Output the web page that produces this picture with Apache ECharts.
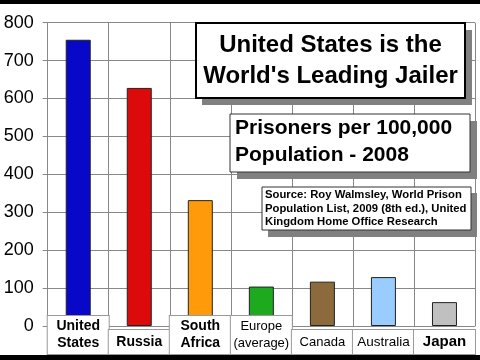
<!DOCTYPE html>
<html><head><meta charset="utf-8">
<script src="https://cdn.jsdelivr.net/npm/echarts@6/dist/echarts.min.js"></script>
<style>html,body{margin:0;padding:0;background:#fff}#c{width:480px;height:360px}</style>
</head><body><div id="c"></div>
<script>
const categories = ['United\nStates', 'Russia', 'South\nAfrica', 'Europe\n(average)', 'Canada', 'Australia', 'Japan'];
const values = [755, 628, 332, 104, 117, 129, 63];
const barColors = ['#0808c8', '#dc0a0a', '#ff9a0a', '#1eaa1e', '#8c6a3c', '#9accff', '#c0c0c0'];
const yTicks = [0, 100, 200, 300, 400, 500, 600, 700, 800];
const titleText = "United States is the\nWorld's Leading Jailer";
const subtitleText = 'Prisoners per 100,000\nPopulation - 2008';
const sourceText = 'Source: Roy Walmsley, World Prison\nPopulation List, 2009 (8th ed.), United\nKingdom Home Office Research';

const labelFonts = [
  {fontWeight: 'bold', fontSize: 14},
  {fontWeight: 'bold', fontSize: 14},
  {fontWeight: 'bold', fontSize: 14},
  {fontWeight: 'normal', fontSize: 13},
  {fontWeight: 'normal', fontSize: 13},
  {fontWeight: 'normal', fontSize: 13.5},
  {fontWeight: 'bold', fontSize: 15}
];

const catData = categories.map((c, i) => {
  const twoLine = c.indexOf('\n') >= 0;
  return {
    value: c,
    textStyle: Object.assign({
      padding: twoLine ? [2, 1] : [3.5, 1],
      lineHeight: 17,
      verticalAlign: 'bottom'
    }, labelFonts[i])
  };
});

const chart = echarts.init(document.getElementById('c'), null, {renderer: 'canvas'});
chart.setOption({
  backgroundColor: '#fff',
  animation: false,
  grid: {left: 47.7, right: 5, top: 22.7, bottom: 34, containLabel: false, outerBoundsMode: 'none'},
  xAxis: {
    type: 'category',
    z: 10,
    data: catData,
    boundaryGap: true,
    axisLine: {show: true, lineStyle: {color: '#888', width: 1}},
    axisTick: {show: false},
    splitLine: {show: true, lineStyle: {color: '#888', width: 1}},
    axisLabel: {
      interval: 0,
      margin: 28,
      verticalAlign: 'bottom',
      align: 'center',
      color: '#000',
      fontFamily: 'Liberation Sans, Arial, sans-serif',
      width: 59,
      backgroundColor: '#fff',
      borderColor: '#999',
      borderWidth: 1
    }
  },
  yAxis: {
    type: 'value',
    min: yTicks[0],
    max: yTicks[yTicks.length - 1],
    interval: 100,
    axisLine: {show: true, lineStyle: {color: '#888', width: 1}},
    axisTick: {show: true, length: 5, lineStyle: {color: '#888'}},
    splitLine: {show: true, lineStyle: {color: '#888', width: 1}},
    axisLabel: {
      margin: 14,
      color: '#000',
      fontSize: 18,
      fontFamily: 'Liberation Sans, Arial, sans-serif'
    }
  },
  series: [{
    type: 'bar',
    barWidth: 25,
    data: values.map((v, i) => ({value: v, itemStyle: {color: barColors[i]}})),
    itemStyle: {borderColor: '#222', borderWidth: 1}
  }],
  graphic: [
    {type: 'rect', z: 100, shape: {x: 0, y: 0, width: 480, height: 4}, style: {fill: '#000'}},
    {type: 'rect', z: 100, shape: {x: 0, y: 355, width: 480, height: 5}, style: {fill: '#000'}},
    {type: 'rect', z: 100, shape: {x: 202, y: 30, width: 270, height: 75}, style: {fill: '#808080'}},
    {type: 'rect', z: 101, shape: {x: 196, y: 23, width: 269, height: 75}, style: {fill: '#fff', stroke: '#000', lineWidth: 2}},
    {type: 'text', z: 102, x: 330.5, y: 60.5, style: {text: titleText, fill: '#000', font: 'bold 24px "Liberation Sans", Arial, sans-serif', align: 'center', verticalAlign: 'middle', lineHeight: 31}},
    {type: 'rect', z: 100, shape: {x: 237, y: 121, width: 240, height: 58}, style: {fill: '#808080'}},
    {type: 'rect', z: 101, shape: {x: 230, y: 114, width: 240, height: 58}, style: {fill: '#fff', stroke: '#333', lineWidth: 1}},
    {type: 'text', z: 102, x: 235, y: 141.5, style: {text: subtitleText, fill: '#000', font: 'bold 21px "Liberation Sans", Arial, sans-serif', align: 'left', verticalAlign: 'middle', lineHeight: 27}},
    {type: 'rect', z: 100, shape: {x: 268, y: 193, width: 209, height: 44}, style: {fill: '#808080'}},
    {type: 'rect', z: 101, shape: {x: 262, y: 187, width: 209, height: 43}, style: {fill: '#fff', stroke: '#333', lineWidth: 1}},
    {type: 'text', z: 102, x: 265, y: 208.5, style: {text: sourceText, fill: '#000', font: 'bold 11.3px "Liberation Sans", Arial, sans-serif', align: 'left', verticalAlign: 'middle', lineHeight: 13.4}}
  ]
});
</script>
</body></html>
